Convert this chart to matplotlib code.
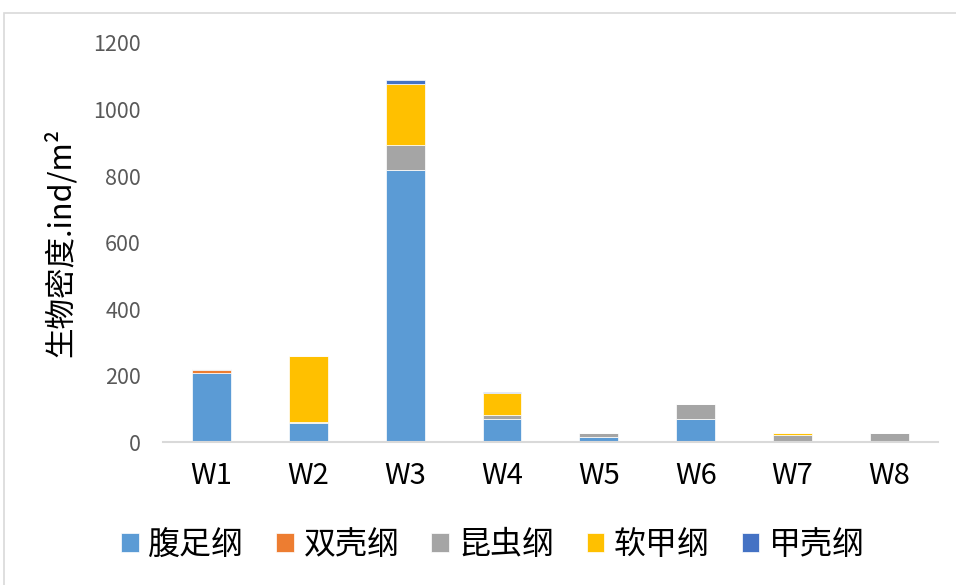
import matplotlib.pyplot as plt
from matplotlib.patches import Rectangle
import numpy as np

plt.rcParams['font.family'] = ['Noto Sans CJK SC', 'DejaVu Sans']

sites = ["W1", "W2", "W3", "W4", "W5", "W6", "W7", "W8"]
names = ["腹足纲", "双壳纲", "昆虫纲", "软甲纲", "甲壳纲"]
colors = ["#5B9BD5", "#ED7D31", "#A5A5A5", "#FFC000", "#4472C4"]

gastropoda = [208, 58, 818, 69, 15, 70, 0, 0]
bivalvia = [8, 0, 0, 0, 0, 0, 0, 0]
insecta = [3, 3, 76, 13, 12, 43, 22, 28]
malacostraca = [0, 198, 184, 66, 0, 0, 5, 0]
crustacea = [0, 0, 11, 3, 0, 0, 0, 0]
series = [gastropoda, bivalvia, insecta, malacostraca, crustacea]

fig = plt.figure(figsize=(9.56, 5.85), dpi=100)
ax = fig.add_axes([0.1705, 0.2444, 0.8105, 0.6821])

# outer chart border
fig.patches.append(Rectangle((4 / 956, -0.01), 1.0, 1 - 13 / 585 + 0.01,
                             transform=fig.transFigure, fill=False,
                             edgecolor="#D9D9D9", linewidth=1.2))

x = np.arange(len(sites))
bottom = np.zeros(len(sites))
for name, vals, c in zip(names, series, colors):
    vals = np.array(vals, dtype=float)
    ax.bar(x, vals, 0.4, bottom=bottom, color=c, label=name,
           edgecolor="white", linewidth=0.5)
    bottom += vals

ax.set_xlim(-0.5, len(sites) - 0.5)
ax.set_ylim(0, 1200)
ax.set_yticks(range(0, 1201, 200))
ax.set_xticks(x)
ax.set_xticklabels(sites, fontsize=21, color="black")
ax.tick_params(axis="y", labelsize=15.5, labelcolor="#595959", length=0, pad=16)
ax.tick_params(axis="x", length=0, pad=14)

for s in ["top", "right", "left"]:
    ax.spines[s].set_visible(False)
ax.spines["bottom"].set_color("#D9D9D9")
ax.spines["bottom"].set_linewidth(1.5)

ax.set_ylabel("生物密度.ind/m²", fontsize=22, labelpad=12)

fig.legend(loc="center", bbox_to_anchor=(493 / 956, 1 - 545 / 585), ncol=5,
           frameon=False, fontsize=23, handlelength=0.55, handleheight=0.55,
           handletextpad=0.3, columnspacing=1.0)

plt.savefig("out.png", dpi=100)
